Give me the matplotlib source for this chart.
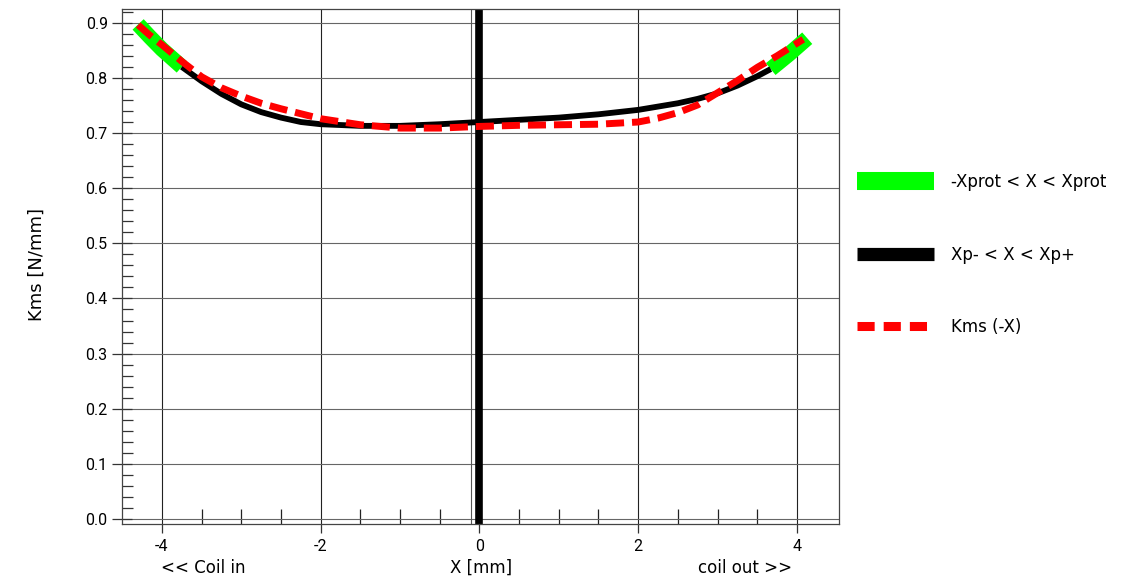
import matplotlib
matplotlib.use('Agg')
import matplotlib.pyplot as plt
from matplotlib.lines import Line2D
from matplotlib.ticker import MultipleLocator, FixedLocator, FormatStrFormatter
import numpy as np

plt.rcParams['font.family'] = ['DejaVu Sans']
plt.rcParams['axes.unicode_minus'] = False

# Kms(X), N/mm
x_kms = [-4.30, -4.15, -4.00, -3.75, -3.50, -3.25, -3.00, -2.75, -2.50, -2.25, -2.00,
         -1.50, -1.00, -0.50, 0.00, 0.50, 1.00, 1.50, 2.00, 2.25, 2.50, 2.75, 3.00,
         3.25, 3.50, 3.67, 3.90, 4.13]
kms = [0.897, 0.874, 0.852, 0.820, 0.794, 0.771, 0.752, 0.738, 0.728, 0.720, 0.716,
       0.713, 0.713, 0.716, 0.720, 0.724, 0.728, 0.734, 0.742, 0.748, 0.754, 0.762, 0.772,
       0.786, 0.803, 0.816, 0.843, 0.872]

# Kms(-X)
x_kms_rev = [-4.30, -4.15, -4.00, -3.75, -3.50, -3.25, -3.00, -2.75, -2.50, -2.25, -2.00,
             -1.50, -1.00, -0.50, 0.00, 0.50, 1.00, 1.50, 2.00, 2.25, 2.50, 2.75, 3.00,
             3.25, 3.50, 3.75, 4.08]
kms_rev = [0.896, 0.877, 0.860, 0.830, 0.802, 0.782, 0.767, 0.754, 0.744, 0.735, 0.726,
           0.715, 0.709, 0.709, 0.712, 0.714, 0.715, 0.716, 0.720, 0.727, 0.737, 0.751, 0.773,
           0.795, 0.819, 0.840, 0.870]

xp_minus, xp_plus = -3.75, 3.67
x_rest = -0.1

fig = plt.figure(figsize=(11.31, 5.79), dpi=100)
ax = fig.add_axes([0.1081, 0.0950, 0.6337, 0.8895])

x_kms = np.array(x_kms)
kms = np.array(kms)
inside = (x_kms >= xp_minus) & (x_kms <= xp_plus)
left = x_kms <= xp_minus
right = x_kms >= xp_plus

# protection zone only shows outside Xp- .. Xp+
ax.plot(x_kms[left], kms[left], color='#00ff00', lw=11, solid_capstyle='butt', zorder=3)
ax.plot(x_kms[right], kms[right], color='#00ff00', lw=11, solid_capstyle='butt', zorder=3)
ax.plot(x_kms[inside], kms[inside], color='black', lw=4.2, solid_capstyle='butt',
        solid_joinstyle='round', zorder=4)
ax.plot(x_kms_rev, kms_rev, color='red', lw=5, dashes=(2.6, 1.15), dash_capstyle='butt', zorder=5)

ax.axvline(0, color='black', lw=5.5, zorder=2)
ax.axvline(x_rest, color='#555555', lw=0.8, zorder=2)

ax.set_xlim(-4.5, 4.53)
ax.set_ylim(-0.009, 0.925)

ax.xaxis.set_major_locator(MultipleLocator(2))
ax.xaxis.set_minor_locator(FixedLocator(np.arange(-4, 4.01, 0.5)))
ax.yaxis.set_major_locator(MultipleLocator(0.1))
ax.yaxis.set_minor_locator(MultipleLocator(0.02))
ax.yaxis.set_major_formatter(FormatStrFormatter('%.1f'))

ax.tick_params(axis='x', which='major', direction='out', length=6.5, width=0.9, color='#333333',
               labelsize=11.5, pad=4)
ax.tick_params(axis='x', which='minor', direction='in', length=11, width=0.9, color='#222222')
ax.tick_params(axis='y', which='major', direction='inout', length=15, width=0.9, color='#333333',
               labelsize=11.5, pad=3)
ax.tick_params(axis='y', which='minor', direction='in', length=8, width=0.9, color='#333333')
for lab in ax.get_xticklabels() + ax.get_yticklabels():
  lab.set_family(['Roboto', 'DejaVu Sans'])

ax.grid(True, axis='x', which='major', color='#222222', lw=0.8)
ax.grid(True, axis='y', which='major', color='#666666', lw=0.8)
for s in ax.spines.values():
  s.set_color('#444444')
  s.set_linewidth(0.9)

ax.text(0.5, -0.085, 'X [mm]', transform=ax.transAxes, ha='center', va='center', fontsize=12)
ax.text(-3.48, -0.085, '<< Coil in', transform=ax.get_xaxis_transform(), ha='center', va='center', fontsize=12)
ax.text(3.35, -0.085, 'coil out >>', transform=ax.get_xaxis_transform(), ha='center', va='center', fontsize=12)
fig.text(37 / 1131, 1 - 265 / 579, 'Kms [N/mm]', rotation=90, ha='center', va='center', fontsize=13)

handles = [
  Line2D([], [], color='#00ff00', lw=13, solid_capstyle='butt'),
  Line2D([], [], color='black', lw=9.5, solid_capstyle='butt'),
  Line2D([], [], color='red', lw=6.5, dashes=(1.9, 1.0), dash_capstyle='butt'),
]
labels = ['-Xprot < X < Xprot', 'Xp- < X < Xp+', 'Kms (-X)']
fig.legend(handles, labels, loc='upper left', bbox_to_anchor=(0.7517, 0.713), frameon=False,
           fontsize=12, handlelength=4.62, handletextpad=1.0, labelspacing=3.28, borderaxespad=0)

fig.savefig('out.png', dpi=100)
